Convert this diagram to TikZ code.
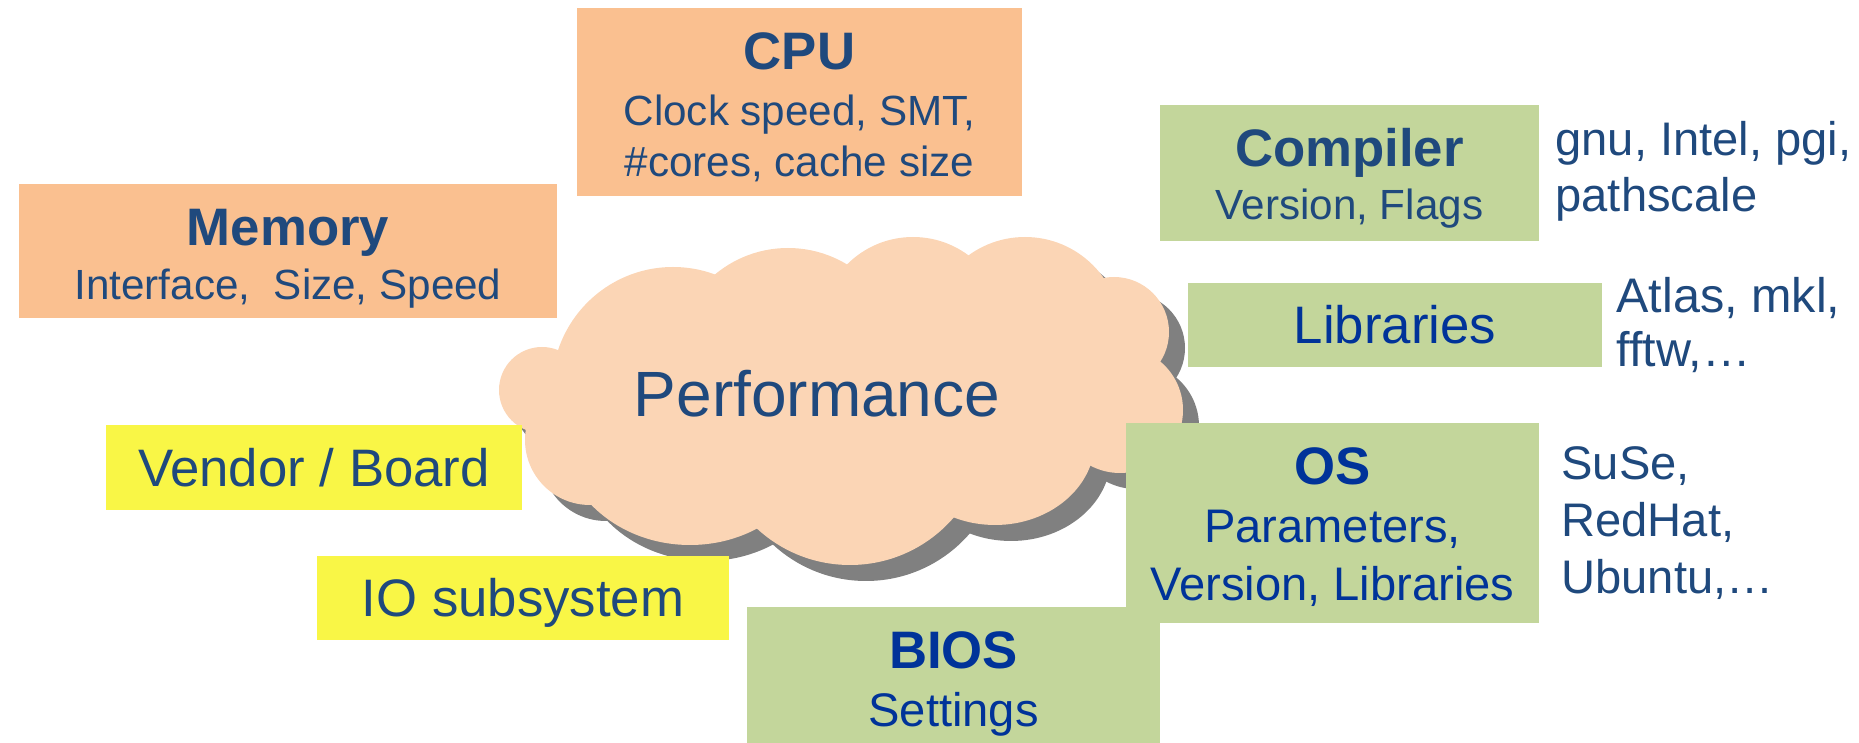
\documentclass[tikz,border=0pt]{standalone}
\usepackage{fontspec}
\setmainfont{Liberation Sans}
\usepackage{tikz}
\usetikzlibrary{positioning}
\usepackage{xcolor}
\definecolor{hworange}{RGB}{250,192,144}
\definecolor{swgreen}{RGB}{195,214,155}
\definecolor{sysyellow}{RGB}{249,246,70}
\definecolor{cloudpeach}{RGB}{251,213,181}
\definecolor{shadowgray}{RGB}{128,128,128}
\definecolor{dkblue}{RGB}{31,73,125}
\definecolor{osblue}{RGB}{0,51,153}
\tikzstyle{hwbox} = [rectangle, fill=hworange, text=dkblue, align=center, inner sep=0pt, font=\fontsize{12}{14.6}\selectfont]
\tikzstyle{swbox} = [rectangle, fill=swgreen, text=dkblue, align=center, inner sep=0pt, font=\fontsize{12}{15}\selectfont]
\tikzstyle{sysbox} = [rectangle, fill=sysyellow, text=dkblue, align=center, inner sep=0pt, text height=10.8pt, text depth=0pt, font=\fontsize{15}{18}\selectfont]
\tikzstyle{sidetext} = [anchor=west, align=left, inner sep=0pt, text=dkblue, font=\fontsize{13.4}{15.9}\selectfont]
\newcommand{\boxtitle}[2][13.5pt]{{\fontsize{15}{15}\selectfont\bfseries\rule{0pt}{#1}#2}}

\begin{document}
\begin{tikzpicture}[x=0.01cm, y=-0.01cm]
\useasboundingbox (0,0) rectangle (1859,743);
% Cloud with shadow
\def\puffs{673/388/121/121, 788/362/114/114, 913/330/93/93, 1025/333/96/96, 1114/332/55/55, 1120/410/63/63, 995/440/100/85, 850/428/137/137, 690/430/130/115, 590/440/65/65, 542/390/43/43}
\foreach \cx/\cy/\rx/\ry in \puffs
  \fill[shadowgray] (\cx+16,\cy+16) ellipse [x radius=\rx, y radius=\ry];
\foreach \cx/\cy/\rx/\ry in \puffs
  \fill[cloudpeach] (\cx,\cy) ellipse [x radius=\rx, y radius=\ry];
\node[anchor=base, text=dkblue, font=\fontsize{18.2}{20}\selectfont] (perf) at (817,417) {Performance};

% Hardware
\node[hwbox, minimum width=4.45cm, minimum height=1.88cm] (cpu) at (799.5,102) {\boxtitle{CPU}\\[1.2pt]Clock speed, SMT,\\\#cores, cache size};
\node[hwbox, minimum width=5.38cm, minimum height=1.34cm] (memory) at (288,251) {\boxtitle[14.7pt]{Memory}\\[1pt]Interface,\ \ Size, Speed};
\node[sysbox, minimum width=4.16cm, minimum height=0.84cm] (vendor) at (314,467.5) {Vendor / Board};
\node[sysbox, minimum width=4.12cm, minimum height=0.84cm] (io) at (523,598) {IO subsystem};

% Software
\node[swbox, minimum width=3.79cm, minimum height=1.36cm] (compiler) at (1349.5,173) {\boxtitle[13.7pt]{Compiler}\\Version, Flags};
\node[swbox, text=osblue, font=\fontsize{15}{18}\selectfont, minimum width=4.14cm, minimum height=0.84cm] (libraries) at (1395,325) {Libraries};
\node[swbox, text=osblue, font=\fontsize{13.4}{16.5}\selectfont, minimum width=4.13cm, minimum height=2.00cm] (os) at (1332.5,523) {\boxtitle[13pt]{OS}\\Parameters,\\Version, Libraries};
\node[swbox, text=osblue, font=\fontsize{13.4}{15.9}\selectfont, minimum width=4.13cm, minimum height=1.36cm] (bios) at (953.5,675) {\boxtitle[15.7pt]{BIOS}\\[0.7pt]Settings};

\node[sidetext, right=0.15cm of compiler, yshift=0.02cm] (compilers) {gnu, Intel, pgi,\\pathscale};
\node[sidetext, right=0.13cm of libraries, font=\fontsize{13.8}{15.2}\selectfont] (libnames) {Atlas, mkl,\\fftw,…};
\node[sidetext, right=0.21cm of os, font=\fontsize{13.4}{16.2}\selectfont] (distros) {SuSe,\\RedHat,\\Ubuntu,…};
\end{tikzpicture}
\end{document}
